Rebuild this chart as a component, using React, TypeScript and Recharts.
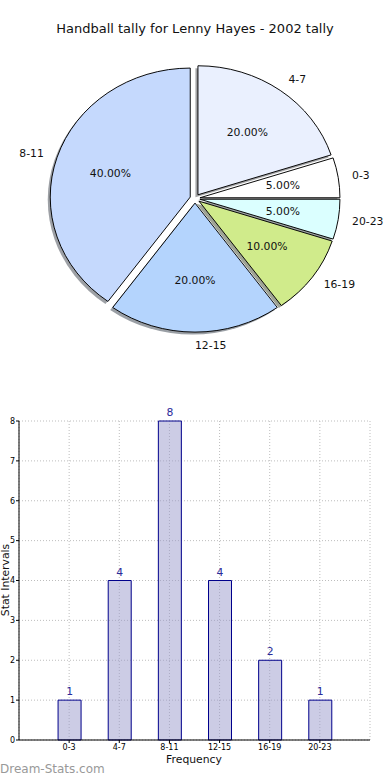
import React from 'react'
import { PieChart, Pie, Cell, BarChart, Bar, XAxis, YAxis, CartesianGrid, LabelList } from 'recharts'

const categories = ['0-3', '4-7', '8-11', '12-15', '16-19', '20-23']
const counts = [1, 4, 8, 4, 2, 1]
const sliceColors = ['#ffffff', '#eaf0fe', '#c5d9fd', '#b4d4fd', '#d0eb8b', '#dbffff']
const yTicks = [0, 1, 2, 3, 4, 5, 6, 7, 8]
const xTicks = categories.map((_, i) => i)

const FONT = '"DejaVu Sans", sans-serif'
const total = counts.reduce((a, b) => a + b, 0)

// the original pie is an ellipse, so draw a circle and squash it vertically
const SY = 129 / 140
const R = 140
const CX = 195
const CY = 198.5 / SY
const EXPLODE = 5

const slices = categories.map((name, i) => {
  const before = counts.slice(0, i).reduce((a, b) => a + b, 0)
  const start = (before / total) * 360
  const end = ((before + counts[i]) / total) * 360
  const mid = (((start + end) / 2) * Math.PI) / 180
  return {
    name,
    value: counts[i],
    color: sliceColors[i],
    start,
    end,
    cx: CX + EXPLODE * Math.cos(mid),
    cy: CY - EXPLODE * Math.sin(mid),
  }
})

const barData = categories.map((name, i) => ({ name, idx: i, count: counts[i] }))

// matplotlib style shadow: 30% of the face colour at half alpha
function shadowOf(hex: string) {
  const n = parseInt(hex.slice(1), 16)
  const r = Math.round(((n >> 16) & 255) * 0.3)
  const g = Math.round(((n >> 8) & 255) * 0.3)
  const b = Math.round((n & 255) * 0.3)
  return `rgb(${r},${g},${b})`
}

function sliceLabel(props: any) {
  const { cx, cy, midAngle, outerRadius, name, value } = props
  const rad = (-midAngle * Math.PI) / 180
  const cos = Math.cos(rad)
  const sin = Math.sin(rad)
  const lx = cx + outerRadius * 1.1 * cos
  const ly = cy + outerRadius * 1.1 * sin
  const px = cx + outerRadius * 0.6 * cos
  const py = cy + outerRadius * 0.6 * sin
  const pct = ((value / total) * 100).toFixed(2) + '%'
  const unsquash = `scale(1, ${1 / SY})`
  return (
    <g>
      <text
        x={0}
        y={0}
        transform={`translate(${lx}, ${ly}) ${unsquash}`}
        textAnchor={cos > -1e-6 ? 'start' : 'end'}
        dominantBaseline="central"
        fontSize={10.8}
        fontFamily={FONT}
        fill="#111"
      >
        {name}
      </text>
      <text
        x={0}
        y={0}
        transform={`translate(${px}, ${py}) ${unsquash}`}
        textAnchor="middle"
        dominantBaseline="central"
        fontSize={10.8}
        fontFamily={FONT}
        fill="#111"
      >
        {pct}
      </text>
    </g>
  )
}

export default function App() {
  return (
    <div style={{ position: 'relative', width: 390, height: 780, overflow: 'hidden', fontFamily: FONT, background: '#fff' }}>
      <style>{'body{margin:0}'}</style>

      <div style={{ position: 'absolute', top: 21, left: 0, width: 390, textAlign: 'center', fontSize: 13, color: '#111' }}>
        Handball tally for Lenny Hayes - 2002 tally
      </div>

      <div style={{ position: 'absolute', top: 0, left: 0, width: 390, height: 400, transform: `scaleY(${SY})`, transformOrigin: '0 0' }}>
        <PieChart width={390} height={400} margin={{ top: 0, right: 0, bottom: 0, left: 0 }}>
          {slices.map((s) => (
            <Pie
              key={'shadow-' + s.name}
              data={[s]}
              dataKey="value"
              nameKey="name"
              cx={s.cx - 2.5}
              cy={s.cy + 2.5 / SY}
              outerRadius={R}
              startAngle={s.start}
              endAngle={s.end}
              stroke="none"
              isAnimationActive={false}
            >
              <Cell fill={shadowOf(s.color)} fillOpacity={0.5} />
            </Pie>
          ))}
          {slices.map((s) => (
            <Pie
              key={s.name}
              data={[s]}
              dataKey="value"
              nameKey="name"
              cx={s.cx}
              cy={s.cy}
              outerRadius={R}
              startAngle={s.start}
              endAngle={s.end}
              stroke="#000"
              strokeWidth={1}
              label={sliceLabel}
              labelLine={false}
              isAnimationActive={false}
            >
              <Cell fill={s.color} />
            </Pie>
          ))}
        </PieChart>
      </div>

      <div style={{ position: 'absolute', top: 400, left: 0 }}>
        <BarChart width={390} height={380} data={barData} margin={{ top: 21, right: 20, bottom: 0, left: 0 }}>
          <CartesianGrid stroke="#bdbdbd" strokeDasharray="1 2" />
          <XAxis
            type="number"
            dataKey="idx"
            domain={[-1, 6]}
            ticks={xTicks}
            interval={0}
            tickFormatter={(v: number) => categories[v]}
            height={40}
            tickSize={3}
            tickMargin={1}
            stroke="#000"
            tick={{ fontSize: 8, fill: '#000', fontFamily: FONT }}
          />
          <XAxis xAxisId="top" orientation="top" type="number" domain={[-1, 6]} height={0} tick={false} tickLine={false} stroke="#000" />
          <YAxis
            type="number"
            domain={[0, 8]}
            ticks={yTicks}
            interval={0}
            width={19}
            tickSize={3}
            tickMargin={1}
            stroke="#000"
            tick={{ fontSize: 8, fill: '#000', fontFamily: FONT }}
          />
          <YAxis yAxisId="right" orientation="right" domain={[0, 8]} width={0} tick={false} tickLine={false} stroke="#000" />
          <Bar dataKey="count" barSize={23} fill="#9999cc" fillOpacity={0.5} stroke="#00008b" strokeWidth={1} isAnimationActive={false}>
            <LabelList dataKey="count" position="top" offset={5} fill="#2a2a9a" fontSize={10.8} fontFamily={FONT} fontWeight="normal" />
          </Bar>
        </BarChart>
      </div>

      <div style={{ position: 'absolute', top: 753, left: 0, width: 390, textAlign: 'center', fontSize: 10.8, color: '#111' }}>
        <span style={{ position: 'relative', left: -1 }}>Frequency</span>
      </div>
      <div
        style={{
          position: 'absolute',
          left: 6,
          top: 580,
          fontSize: 10.8,
          lineHeight: 1,
          color: '#111',
          whiteSpace: 'nowrap',
          transform: 'translate(-50%, -50%) rotate(-90deg)',
        }}
      >
        Stat Intervals
      </div>
      <div style={{ position: 'absolute', left: 0, top: 762, fontSize: 12, color: '#999', whiteSpace: 'nowrap' }}>
        Dream-Stats.com
      </div>
    </div>
  )
}
